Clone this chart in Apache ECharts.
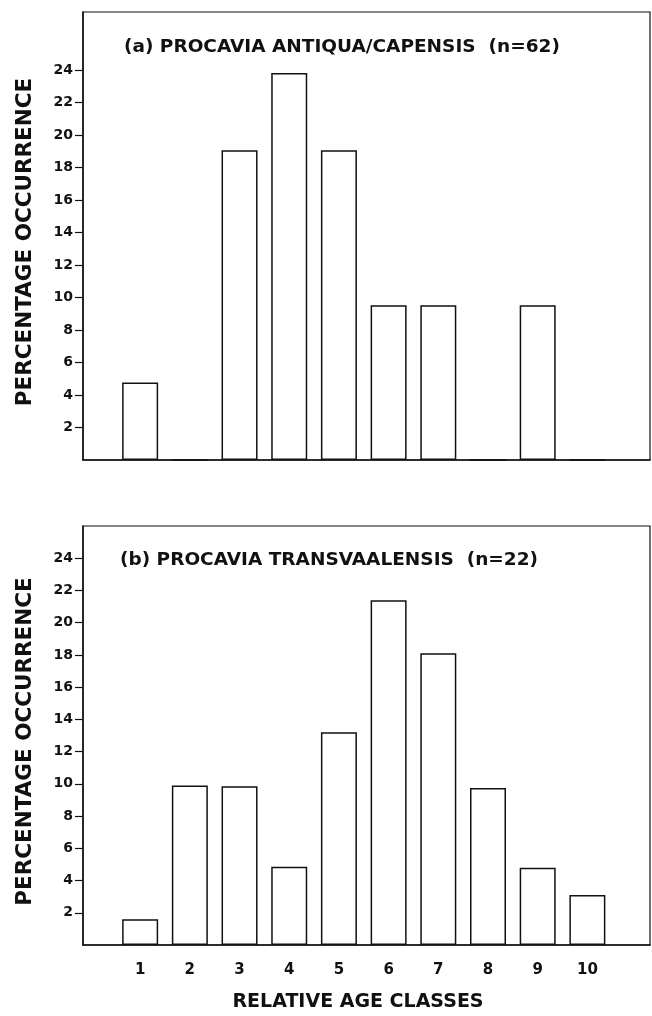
<!DOCTYPE html>
<html>
<head>
<meta charset="utf-8">
<script src="https://cdn.jsdelivr.net/npm/echarts@6/dist/echarts.min.js"></script>
<style>
html,body{margin:0;padding:0;background:#fff;}
#chart{width:652px;height:1016px;}
</style>
</head>
<body>
<div id="chart"></div>
<script>
// Data
const ageClasses = [1, 2, 3, 4, 5, 6, 7, 8, 9, 10];
const antiquaCapensis = [4.76, 0, 19.05, 23.81, 19.05, 9.52, 9.52, 0, 9.52, 0];
const transvaalensis = [1.6, 9.9, 9.85, 4.85, 13.2, 21.4, 18.1, 9.75, 4.8, 3.1];
const yTickValues = [2, 4, 6, 8, 10, 12, 14, 16, 18, 20, 22, 24];
const xTickValues = [1, 2, 3, 4, 5, 6, 7, 8, 9, 10];
const titleA = '(a) PROCAVIA ANTIQUA/CAPENSIS  (n=62)';
const titleB = '(b) PROCAVIA TRANSVAALENSIS  (n=22)';
const yAxisTitle = 'PERCENTAGE OCCURRENCE';
const xAxisTitle = 'RELATIVE AGE CLASSES';

const FONT = '"DejaVu Sans", "Liberation Sans", Arial, sans-serif';
const INK = '#111';

const chart = echarts.init(document.getElementById('chart'), null, {renderer: 'canvas'});

function pairs(values) {
  return ageClasses.map((c, i) => [c, values[i]]);
}

function yAxisDef(gridIndex, max) {
  return {
    type: 'value', gridIndex: gridIndex, min: 0, max: max,
    name: yAxisTitle, nameLocation: 'middle', nameGap: 47,
    nameTextStyle: {fontFamily: FONT, fontWeight: 'bold', fontSize: 21.5, color: INK, padding: [0, 12, 0, 0]},
    axisLine: {show: true, onZero: false, lineStyle: {color: INK, width: 1.5}},
    axisTick: {show: true, customValues: yTickValues, length: 8, inside: false, lineStyle: {color: INK, width: 1.2}},
    axisLabel: {show: true, customValues: yTickValues, margin: 10, fontFamily: FONT, fontWeight: 'bold', fontSize: 14, color: INK},
    splitLine: {show: false}
  };
}

function xAxisDef(gridIndex, showLabels) {
  return {
    type: 'value', gridIndex: gridIndex, min: -0.15, max: 11.26,
    axisLine: {show: true, onZero: false, lineStyle: {color: INK, width: 1.5}},
    axisTick: {show: false},
    axisLabel: {show: showLabels, customValues: xTickValues, margin: 18, fontFamily: FONT, fontWeight: 'bold', fontSize: 15, color: INK},
    splitLine: {show: false}
  };
}

const barStyle = {color: '#fff', borderColor: INK, borderWidth: 1.5};

chart.setOption({
  animation: false,
  backgroundColor: '#fff',
  title: [
    {text: titleA, left: 124, top: 38, padding: 0, textStyle: {fontFamily: FONT, fontWeight: 'bold', fontSize: 18.5, color: INK}},
    {text: titleB, left: 120, top: 551, padding: 0, textStyle: {fontFamily: FONT, fontWeight: 'bold', fontSize: 18.5, color: INK}},
    {text: xAxisTitle, left: 358, top: 993, padding: 0, textAlign: 'center', textStyle: {fontFamily: FONT, fontWeight: 'bold', fontSize: 19, color: INK}}
  ],
  grid: [
    {left: 83, right: 2, top: 12, height: 448, show: true, borderColor: INK, borderWidth: 1.2, backgroundColor: 'transparent'},
    {left: 83, right: 2, top: 526, height: 419, show: true, borderColor: INK, borderWidth: 1.2, backgroundColor: 'transparent'}
  ],
  xAxis: [xAxisDef(0, false), xAxisDef(1, true)],
  yAxis: [yAxisDef(0, 27.56), yAxisDef(1, 26)],
  series: [
    {type: 'bar', xAxisIndex: 0, yAxisIndex: 0, barWidth: 36, data: pairs(antiquaCapensis), itemStyle: barStyle},
    {type: 'bar', xAxisIndex: 1, yAxisIndex: 1, barWidth: 36, data: pairs(transvaalensis), itemStyle: barStyle}
  ]
});
</script>
</body>
</html>
